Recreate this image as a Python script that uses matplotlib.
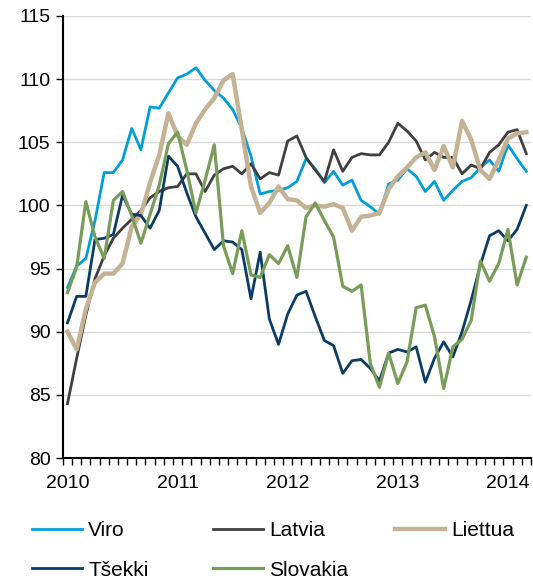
import matplotlib.pyplot as plt
from matplotlib.ticker import MultipleLocator

plt.rcParams['font.family'] = ['Liberation Sans', 'DejaVu Sans']

# monthly index, Jan 2010 .. Mar 2014
months = list(range(51))
year_pos = [0, 12, 24, 36, 48]
year_labels = ['2010', '2011', '2012', '2013', '2014']

viro = [93.5, 95.2, 95.8, 98.8, 102.6, 102.6, 103.6, 106.1, 104.4, 107.8,
        107.7, 108.9, 110.1, 110.4, 110.9, 109.9, 109.1, 108.5, 107.6, 106.1,
        103.9, 100.9, 101.1, 101.2, 101.4, 101.9, 103.7, 102.9, 101.8, 102.7,
        101.6, 102.0, 100.4, 99.9, 99.3, 101.7, 102.0, 102.9, 102.3, 101.1,
        101.9, 100.4, 101.2, 101.9, 102.2, 103.0, 103.6, 102.7, 104.8, 103.7,
        102.7]
latvia = [84.3, 87.9, 91.3, 94.2, 96.0, 97.4, 98.2, 98.9, 99.6, 100.6,
          101.1, 101.4, 101.5, 102.5, 102.5, 101.1, 102.4, 102.9, 103.1, 102.5,
          103.3, 102.1, 102.6, 102.4, 105.1, 105.5, 103.8, 102.8, 101.9, 104.4,
          102.7, 103.8, 104.1, 104.0, 104.0, 105.0, 106.5, 105.9, 105.1, 103.6,
          104.2, 103.8, 103.8, 102.5, 103.2, 102.9, 104.2, 104.8, 105.8, 106.0,
          104.1]
liettua = [90.0, 88.6, 91.8, 93.9, 94.6, 94.6, 95.4, 98.3, 99.3, 101.8,
           104.0, 107.3, 105.5, 104.8, 106.5, 107.6, 108.5, 109.9, 110.4, 106.0,
           101.5, 99.4, 100.2, 101.5, 100.5, 100.4, 99.8, 100.0, 99.9, 100.1,
           99.8, 98.0, 99.1, 99.2, 99.4, 101.3, 102.3, 103.0, 103.8, 104.2,
           102.8, 104.7, 103.0, 106.7, 105.2, 102.8, 102.1, 103.6, 105.3, 105.7,
           105.8]
tsekki = [90.7, 92.8, 92.8, 97.3, 97.4, 97.7, 100.8, 99.3, 99.2, 98.2,
          99.6, 103.9, 103.1, 101.0, 99.1, 97.8, 96.5, 97.2, 97.1, 96.5,
          92.6, 96.3, 91.0, 89.0, 91.4, 92.9, 93.2, 91.2, 89.3, 88.9,
          86.7, 87.7, 87.8, 87.1, 86.1, 88.3, 88.6, 88.4, 88.8, 86.0,
          87.9, 89.2, 88.0, 90.0, 92.5, 95.3, 97.6, 98.0, 97.2, 98.1,
          100.0]
slovakia = [93.1, 95.1, 100.3, 97.5, 95.8, 100.4, 101.1, 99.2, 97.0, 99.3,
            101.6, 104.9, 105.8, 102.8, 99.4, 102.0, 104.8, 96.8, 94.6, 98.0,
            94.5, 94.3, 96.1, 95.4, 96.8, 94.3, 99.1, 100.2, 98.8, 97.5,
            93.6, 93.2, 93.7, 87.5, 85.6, 88.3, 85.9, 87.6, 91.9, 92.1,
            89.6, 85.5, 88.8, 89.4, 90.9, 95.6, 94.0, 95.4, 98.1, 93.7,
            95.9]

series = [
    ("Viro", viro, "#009fdb", 2.0),
    ("Latvia", latvia, "#404040", 2.0),
    ("Liettua", liettua, "#c4b294", 3.2),
    ("Tšekki", tsekki, "#0c3c64", 2.0),
    ("Slovakia", slovakia, "#7a9c5a", 2.3),
]

fig = plt.figure(figsize=(5.33, 5.81), dpi=100)
ax = fig.add_axes([0.118, 0.2117, 0.878, 0.7608])

handles = {}
for name, vals, col, lw in series:
    l, = ax.plot(months, vals, color=col, lw=lw, label=name)
    handles[name] = l

ax.set_ylim(80, 115)
ax.set_xlim(-0.5, 50.5)
ax.yaxis.set_major_locator(MultipleLocator(5))
ax.grid(axis='y', color='#d9d9d9', lw=1.0)
ax.set_axisbelow(True)

ax.set_xticks(year_pos)
ax.set_xticklabels(year_labels)
ax.set_xticks([m - 0.5 for m in months] + [50.5], minor=True)
ax.tick_params(axis='x', which='major', length=0, labelsize=14, pad=12)
ax.tick_params(axis='x', which='minor', length=5, width=1, direction='out')
ax.tick_params(axis='y', length=5, width=1, direction='out', labelsize=14, pad=4)

for s in ['top', 'right']:
    ax.spines[s].set_visible(False)
for s in ['left', 'bottom']:
    ax.spines[s].set_linewidth(1.5)
    ax.spines[s].set_color('black')

cols = [(0.060, ["Viro", "Tšekki"]),
        (0.3996, ["Latvia", "Slovakia"]),
        (0.741, ["Liettua"])]
for x, names in cols:
    fig.legend(handles=[handles[n] for n in names], labels=names,
               loc='upper left', bbox_to_anchor=(x, 0.1035),
               frameon=False, fontsize=15, borderpad=0, borderaxespad=0,
               handlelength=2.4, handletextpad=0.3, labelspacing=1.0)

fig.savefig("out.png", dpi=100)
